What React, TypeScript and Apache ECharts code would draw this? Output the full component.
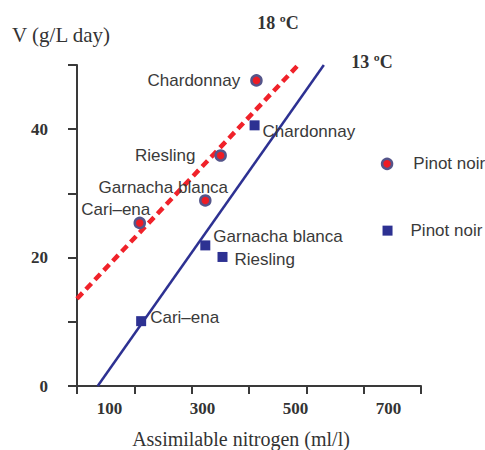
import React, { useEffect, useRef } from "react";
import * as echarts from "echarts";

// Data (x: assimilable nitrogen, y: V g/L day)
const varieties18 = ["Chardonnay", "Riesling", "Garnacha blanca", "Cari–ena", "Pinot noir"];
const x18 = [416, 339, 306, 165, 697];
const y18 = [47.6, 35.9, 28.9, 25.4, 34.6];

const varieties13 = ["Chardonnay", "Garnacha blanca", "Riesling", "Cari–ena", "Pinot noir"];
const x13 = [412, 306, 343, 168, 698];
const y13 = [40.6, 21.9, 20.1, 10.1, 24.2];

const line18 = [[30, 13.6], [506, 50]];
const line13 = [[74.5, 0], [561, 50]];

const xLabels = [100, 300, 500, 700];
const yLabels = [0, 20, 40];

// Label placement (layout, not data)
const labelLayout18: any[] = [
  { position: "left", distance: 10 },
  { position: "left", distance: 19 },
  { position: "inside", offset: [-42, -13] },
  { position: "inside", offset: [-24, -13] },
  { position: "right", distance: 20 },
];
const labelLayout13: any[] = [
  { position: "right", distance: 3, offset: [0, 6] },
  { position: "right", distance: 3, offset: [0, -9] },
  { position: "right", distance: 7, offset: [0, 3] },
  { position: "right", distance: 4, offset: [0, -4] },
  { position: "right", distance: 18 },
];

const X_MIN = 30;
const X_MAX = 770;

export default function App() {
  const ref = useRef<HTMLDivElement>(null);
  useEffect(() => {
    document.body.style.margin = "0";
    if (!ref.current) return;
    const chart = echarts.init(ref.current, undefined, { renderer: "svg" });
    const tickVals: number[] = [];
    for (let i = 0; i <= 6; i++) tickVals.push(X_MIN + ((X_MAX - X_MIN) * i) / 6);
    const axisColor = "#3a3a3a";
    const serif = "'Liberation Serif', 'Times New Roman', serif";
    const labelFont = {
      fontFamily: "'Liberation Sans', Arial, sans-serif",
      fontSize: 17,
      color: "#3a3a3a",
    };
    chart.setOption({
      animation: false,
      grid: { left: 77, top: 65, width: 344, height: 321, outerBoundsMode: "none", containLabel: false },
      xAxis: {
        type: "value",
        min: X_MIN,
        max: X_MAX,
        splitLine: { show: false },
        axisLine: { show: true, lineStyle: { color: axisColor, width: 2 } },
        axisTick: {
          show: true,
          inside: false,
          length: 8,
          customValues: tickVals,
          lineStyle: { color: axisColor, width: 2 },
        },
        axisLabel: {
          customValues: xLabels,
          margin: 14,
          fontFamily: serif,
          fontWeight: "bold",
          fontSize: 17,
          color: "#333",
        },
      },
      yAxis: {
        type: "value",
        min: 0,
        max: 50,
        interval: 10,
        splitLine: { show: false },
        axisLine: { show: true, lineStyle: { color: axisColor, width: 2 } },
        axisTick: { show: true, inside: false, length: 9, lineStyle: { color: axisColor, width: 2 } },
        axisLabel: {
          margin: 29,
          formatter: (v: number) => (yLabels.indexOf(v) >= 0 ? String(v) : ""),
          fontFamily: serif,
          fontWeight: "bold",
          fontSize: 17,
          color: "#333",
        },
      },
      graphic: [
        {
          type: "text",
          x: 61,
          y: 35,
          style: {
            text: "V (g/L day)",
            fontFamily: serif,
            fontSize: 21,
            fill: "#333",
            align: "center",
            verticalAlign: "middle",
          },
        },
        {
          type: "text",
          x: 241,
          y: 439,
          style: {
            text: "Assimilable nitrogen (ml/l)",
            fontFamily: serif,
            fontSize: 20,
            fill: "#333",
            align: "center",
            verticalAlign: "middle",
          },
        },
        {
          type: "text",
          x: 278,
          y: 23,
          style: {
            text: "18 ºC",
            fontFamily: serif,
            fontWeight: "bold",
            fontSize: 18,
            fill: "#333",
            align: "center",
            verticalAlign: "middle",
          },
        },
        {
          type: "text",
          x: 372,
          y: 62,
          style: {
            text: "13 ºC",
            fontFamily: serif,
            fontWeight: "bold",
            fontSize: 18,
            fill: "#333",
            align: "center",
            verticalAlign: "middle",
          },
        },
      ],
      series: [
        {
          type: "line",
          data: line18,
          showSymbol: false,
          silent: true,
          z: 1,
          lineStyle: { color: "#f0222a", width: 4.5, type: [8, 5] },
        },
        {
          type: "line",
          data: line13,
          showSymbol: false,
          silent: true,
          z: 1,
          lineStyle: { color: "#2d3192", width: 2.5 },
        },
        {
          type: "scatter",
          z: 3,
          symbol: "circle",
          symbolSize: 10,
          itemStyle: { color: "#ee1c24", borderColor: "#55558a", borderWidth: 2.5, opacity: 1 },
          data: x18.map((x, i) => ({
            value: [x, y18[i]],
            name: varieties18[i],
            label: { show: true, formatter: varieties18[i], ...labelFont, ...labelLayout18[i] },
          })),
        },
        {
          type: "scatter",
          z: 3,
          symbol: "rect",
          symbolSize: 10,
          itemStyle: { color: "#2d3192", opacity: 1 },
          data: x13.map((x, i) => ({
            value: [x, y13[i]],
            name: varieties13[i],
            label: { show: true, formatter: varieties13[i], ...labelFont, ...labelLayout13[i] },
          })),
        },
      ],
    });
    return () => chart.dispose();
  }, []);
  return <div ref={ref} style={{ width: 485, height: 450 }} />;
}
